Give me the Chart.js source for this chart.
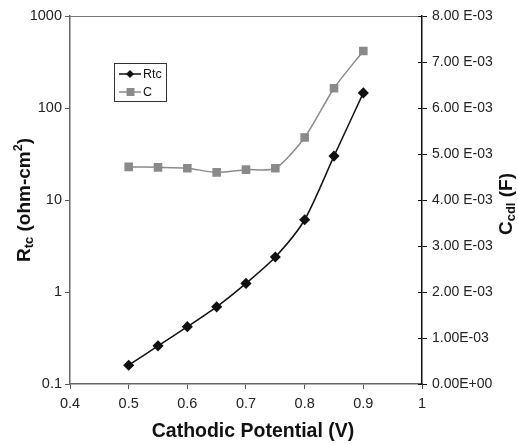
<!DOCTYPE html>
<html>
<head>
<meta charset="utf-8">
<script src="https://cdn.jsdelivr.net/npm/chart.js@4/dist/chart.umd.min.js"></script>
<style>
  html, body { margin: 0; padding: 0; background: #fff; }
  #wrap { width: 518px; height: 444px; }
</style>
</head>
<body>
<div id="wrap"><canvas id="rtcChart" width="518" height="444"></canvas></div>
<script>
// data
var potential = [0.5, 0.55, 0.6, 0.65, 0.7, 0.75, 0.8, 0.85, 0.9];
var rtcValues = [0.16, 0.26, 0.42, 0.69, 1.24, 2.4, 6.1, 30, 146];
var cdlValues = [4.72e-3, 4.71e-3, 4.69e-3, 4.60e-3, 4.66e-3, 4.69e-3, 5.36e-3, 6.43e-3, 7.24e-3];

var xTicks = [0.4, 0.5, 0.6, 0.7, 0.8, 0.9, 1];
var xTickLabels = ["0.4", "0.5", "0.6", "0.7", "0.8", "0.9", "1"];
var leftTicks = [0.1, 1, 10, 100, 1000];
var leftTickLabels = ["0.1", "1", "10", "100", "1000"];
var rightTicks = [0, 1e-3, 2e-3, 3e-3, 4e-3, 5e-3, 6e-3, 7e-3, 8e-3];
var rightTickLabels = ["0.00E+00", "1.00E-03", "2.00 E-03", "3.00 E-03", "4.00 E-03",
  "5.00 E-03", "6.00 E-03", "7.00 E-03", "8.00 E-03"];

var FONT = "'Liberation Sans', Arial, sans-serif";

function pairs(xs, ys) {
  return xs.map(function (x, i) { return { x: x, y: ys[i] }; });
}

// draws "text" made of segments, some of them sub/superscript
function richText(ctx, parts, cx, cy, rot) {
  ctx.save();
  ctx.translate(cx, cy);
  ctx.rotate(rot);
  var total = 0;
  parts.forEach(function (p) {
    ctx.font = "bold " + p.size + "px " + FONT;
    p.w = ctx.measureText(p.t).width;
    total += p.w;
  });
  var x = -total / 2;
  ctx.textBaseline = "middle";
  ctx.textAlign = "left";
  ctx.fillStyle = "#111";
  parts.forEach(function (p) {
    ctx.font = "bold " + p.size + "px " + FONT;
    ctx.fillText(p.t, x, p.dy || 0);
    x += p.w;
  });
  ctx.restore();
}

var extras = {
  id: "extras",
  beforeDatasetsDraw: function (chart) {
    var ctx = chart.ctx, a = chart.chartArea;
    ctx.save();
    // top frame line
    ctx.strokeStyle = "#777";
    ctx.lineWidth = 1;
    ctx.beginPath();
    ctx.moveTo(a.left, a.top + 0.5);
    ctx.lineTo(a.right, a.top + 0.5);
    ctx.stroke();
    // inner half of the right axis ticks
    var y1 = chart.scales.y1;
    ctx.strokeStyle = "#111";
    rightTicks.forEach(function (v) {
      var py = Math.round(y1.getPixelForValue(v)) + 0.5;
      ctx.beginPath();
      ctx.moveTo(a.right - 4, py);
      ctx.lineTo(a.right, py);
      ctx.stroke();
    });
    ctx.restore();
  },
  afterDraw: function (chart) {
    var ctx = chart.ctx, a = chart.chartArea;
    var midY = (a.top + a.bottom) / 2;

    // axis titles
    richText(ctx, [
      { t: "R", size: 19 },
      { t: "tc", size: 13, dy: 4 },
      { t: " (ohm-cm", size: 19 },
      { t: "2", size: 12.5, dy: -6 },
      { t: ")", size: 19 }
    ], 25, midY, -Math.PI / 2);
    richText(ctx, [
      { t: "C", size: 19 },
      { t: "cdl", size: 13, dy: 4 },
      { t: " (F)", size: 19 }
    ], 507, midY + 4, -Math.PI / 2);
    richText(ctx, [{ t: "Cathodic Potential (V)", size: 19.5 }], 253, 432, 0);

    // legend
    ctx.save();
    ctx.strokeStyle = "#333";
    ctx.lineWidth = 1;
    ctx.strokeRect(114.5, 63.5, 52, 38);
    ctx.font = "12.5px " + FONT;
    ctx.textBaseline = "middle";
    ctx.fillStyle = "#111";
    var rows = [
      { y: 74, color: "#111", name: "Rtc", shape: "diamond" },
      { y: 92, color: "#8a8a8a", name: "C", shape: "square" }
    ];
    rows.forEach(function (r) {
      ctx.strokeStyle = r.color;
      ctx.lineWidth = 1.5;
      ctx.beginPath();
      ctx.moveTo(119, r.y);
      ctx.lineTo(141, r.y);
      ctx.stroke();
      ctx.fillStyle = r.color;
      ctx.beginPath();
      if (r.shape === "diamond") {
        ctx.moveTo(130, r.y - 4); ctx.lineTo(134, r.y);
        ctx.lineTo(130, r.y + 4); ctx.lineTo(126, r.y);
        ctx.closePath();
      } else {
        ctx.rect(126.5, r.y - 4, 8, 8);
      }
      ctx.fill();
      ctx.fillStyle = "#111";
      ctx.fillText(r.name, 143, r.y + 1);
    });
    ctx.restore();
  }
};

new Chart(document.getElementById("rtcChart"), {
  type: "line",
  data: {
    datasets: [
      {
        label: "Rtc",
        data: pairs(potential, rtcValues),
        yAxisID: "y",
        borderColor: "#111",
        backgroundColor: "#111",
        borderWidth: 1.5,
        pointStyle: "rectRot",
        pointRadius: 4.5,
        tension: 0.25,
      },
      {
        label: "C",
        data: pairs(potential, cdlValues),
        yAxisID: "y1",
        borderColor: "#8a8a8a",
        backgroundColor: "#8a8a8a",
        borderWidth: 1.5,
        pointStyle: "rect",
        pointRadius: 5,
        tension: 0.25,
      },
    ],
  },
  plugins: [extras],
  options: {
    responsive: false,
    animation: false,
    layout: { padding: { top: 16, left: 0, right: 0, bottom: 0 } },
    plugins: {
      legend: { display: false },
      tooltip: { enabled: false },
    },
    scales: {
      x: {
        type: "linear",
        min: 0.4,
        max: 1,
        afterFit: function (s) { s.height = 60; },
        afterBuildTicks: function (s) {
          s.ticks = xTicks.map(function (v) { return { value: v }; });
        },
        ticks: {
          callback: function (v, i) { return xTickLabels[i]; },
          font: { family: FONT, size: 14.5 },
          color: "#222",
          padding: 6,
          maxRotation: 0,
        },
        grid: { drawOnChartArea: false, tickLength: 5, color: "#555" },
        border: { color: "#666", width: 1.5 },
      },
      y: {
        type: "logarithmic",
        position: "left",
        min: 0.1,
        max: 1000,
        afterFit: function (s) { s.width = 70; },
        afterBuildTicks: function (s) {
          s.ticks = leftTicks.map(function (v) { return { value: v }; });
        },
        ticks: {
          callback: function (v, i) { return leftTickLabels[i]; },
          font: { family: FONT, size: 14.5 },
          color: "#222",
          padding: 3,
        },
        grid: { drawOnChartArea: false, tickLength: 5, color: "#555" },
        border: { color: "#666", width: 1.5 },
      },
      y1: {
        type: "linear",
        position: "right",
        min: 0,
        max: 0.008,
        afterFit: function (s) { s.width = 96; },
        afterBuildTicks: function (s) {
          s.ticks = rightTicks.map(function (v) { return { value: v }; });
        },
        ticks: {
          callback: function (v, i) { return rightTickLabels[i]; },
          font: { family: FONT, size: 14 },
          color: "#222",
          padding: 5,
        },
        grid: { drawOnChartArea: false, tickLength: 5, color: "#111" },
        border: { color: "#111", width: 1.5 },
      },
    },
  },
});
</script>
</body>
</html>
